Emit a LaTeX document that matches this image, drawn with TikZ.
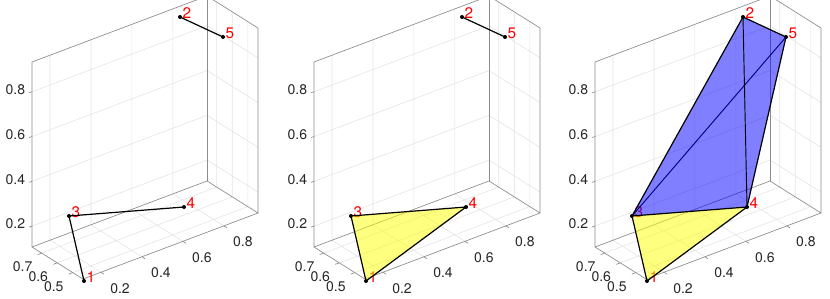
\documentclass[tikz,border=0pt]{standalone}
\usepackage{fontspec}
\setmainfont{TeX Gyre Heros}
\usetikzlibrary{calc}
\definecolor{boxG}{HTML}{8C8C8C}
\definecolor{gridG}{HTML}{E4E4E4}
\definecolor{tickT}{HTML}{262626}
\definecolor{faceY}{HTML}{FFFF00}
\definecolor{faceB}{HTML}{0000FF}

\begin{document}
\begin{tikzpicture}[
  x=0.75pt, y=-0.75pt,
  gridln/.style={draw=gridG, line width=0.45pt},
  boxln/.style={draw=boxG, line width=0.5pt},
  ticklab/.style={
    font=\fontsize{10.5}{12}\selectfont,
    text=tickT, inner sep=0pt
  },
  vtx/.style={circle, fill=black, inner sep=0pt, minimum size=3pt},
  vlab/.style={
    font=\fontsize{11.5}{12}\selectfont,
    text=red, inner sep=0pt,
    anchor=south west, yshift=-1.5pt
  },
  edgeln/.style={draw=black, line width=0.9pt},
  yface/.style={fill=faceY, fill opacity=0.5},
  bface/.style={fill=faceB, fill opacity=0.5},
  axesbox/.pic={
    \coordinate (FL) at (32,247);
    \coordinate (FB) at (207,181);
    \coordinate (FR) at (258,213);
    \coordinate (FF) at (83,279);
    \coordinate (TL) at (32,62);
    \coordinate (TB) at (207,-4);
    \coordinate (TR) at (258,28);
    % back walls and floor grid
    \draw[gridln]
      ($(FL)!0.103!(FB)$) -- ($(TL)!0.103!(TB)$)
      ($(FL)!0.337!(FB)$) -- ($(TL)!0.337!(TB)$)
      ($(FL)!0.571!(FB)$) -- ($(TL)!0.571!(TB)$)
      ($(FL)!0.805!(FB)$) -- ($(TL)!0.805!(TB)$)
      ($(FL)!0.113!(TL)$) -- ($(FB)!0.113!(TB)$) -- ($(FR)!0.113!(TR)$)
      ($(FL)!0.355!(TL)$) -- ($(FB)!0.355!(TB)$) -- ($(FR)!0.355!(TR)$)
      ($(FL)!0.597!(TL)$) -- ($(FB)!0.597!(TB)$) -- ($(FR)!0.597!(TR)$)
      ($(FL)!0.839!(TL)$) -- ($(FB)!0.839!(TB)$) -- ($(FR)!0.839!(TR)$)
      ($(FB)!0.19!(FR)$) -- ($(TB)!0.19!(TR)$)
      ($(FB)!0.495!(FR)$) -- ($(TB)!0.495!(TR)$)
      ($(FB)!0.80!(FR)$) -- ($(TB)!0.80!(TR)$);
    \draw[gridln]
      ($(FL)!0.103!(FB)$) -- ($(FF)!0.103!(FR)$)
      ($(FL)!0.337!(FB)$) -- ($(FF)!0.337!(FR)$)
      ($(FL)!0.571!(FB)$) -- ($(FF)!0.571!(FR)$)
      ($(FL)!0.805!(FB)$) -- ($(FF)!0.805!(FR)$)
      ($(FL)!0.19!(FF)$) -- ($(FB)!0.19!(FR)$)
      ($(FL)!0.495!(FF)$) -- ($(FB)!0.495!(FR)$)
      ($(FL)!0.80!(FF)$) -- ($(FB)!0.80!(FR)$);
    % box edges and rulers
    \draw[boxln] (FL) -- (TL) -- (TB) -- (TR) -- (FR) -- (FB) -- (FL);
    \draw[boxln] (FB) -- (TB);
    \draw[boxln] (FL) -- (FF) -- (FR);
    \draw[boxln]
      ($(FF)!0.103!(FR)$) -- ++(3,2)
      ($(FF)!0.337!(FR)$) -- ++(3,2)
      ($(FF)!0.571!(FR)$) -- ++(3,2)
      ($(FF)!0.805!(FR)$) -- ++(3,2)
      ($(FL)!0.19!(FF)$) -- ++(-4,1.5)
      ($(FL)!0.495!(FF)$) -- ++(-4,1.5)
      ($(FL)!0.80!(FF)$) -- ++(-4,1.5)
      ($(FL)!0.113!(TL)$) -- ++(-3,1)
      ($(FL)!0.355!(TL)$) -- ++(-3,1)
      ($(FL)!0.597!(TL)$) -- ++(-3,1)
      ($(FL)!0.839!(TL)$) -- ++(-3,1);
    % tick labels
    \node[ticklab, anchor=east, xshift=-5pt, yshift=1.5pt] at ($(FL)!0.113!(TL)$) {0.2};
    \node[ticklab, anchor=east, xshift=-5pt, yshift=1.5pt] at ($(FL)!0.355!(TL)$) {0.4};
    \node[ticklab, anchor=east, xshift=-5pt, yshift=1.5pt] at ($(FL)!0.597!(TL)$) {0.6};
    \node[ticklab, anchor=east, xshift=-5pt, yshift=1.5pt] at ($(FL)!0.839!(TL)$) {0.8};
    \node[ticklab, xshift=14.25pt, yshift=-12pt] at ($(FF)!0.103!(FR)$) {0.2};
    \node[ticklab, xshift=14.25pt, yshift=-12pt] at ($(FF)!0.337!(FR)$) {0.4};
    \node[ticklab, xshift=14.25pt, yshift=-12pt] at ($(FF)!0.571!(FR)$) {0.6};
    \node[ticklab, xshift=14.25pt, yshift=-12pt] at ($(FF)!0.805!(FR)$) {0.8};
    \node[ticklab, xshift=-14.25pt, yshift=-10.5pt] at ($(FL)!0.19!(FF)$) {0.7};
    \node[ticklab, xshift=-14.25pt, yshift=-10.5pt] at ($(FL)!0.495!(FF)$) {0.6};
    \node[ticklab, xshift=-14.25pt, yshift=-10.5pt] at ($(FL)!0.80!(FF)$) {0.5};
  },
]
\useasboundingbox (0,0) rectangle (830,299);

%% ═══ AXES ═══
\pic at (0,0) {axesbox};
\pic at (282,0) {axesbox};
\pic at (563,0) {axesbox};

%% ═══ PANEL 1 — EDGES ONLY ═══
\begin{scope}
  \node[vtx, label={[vlab]right:1}] (a1) at (84,281) {};
  \node[vtx, label={[vlab]right:2}] (a2) at (180,17) {};
  \node[vtx, label={[vlab]right:3}] (a3) at (69,216) {};
  \node[vtx, label={[vlab]right:4}] (a4) at (184,207) {};
  \node[vtx, label={[vlab]right:5}] (a5) at (223,37) {};
  \draw[edgeln] (a2.center) -- (a5.center);
  \draw[edgeln] (a3.center) -- (a4.center);
  \draw[edgeln] (a3.center) -- (a1.center);
\end{scope}

%% ═══ PANEL 2 — ONE TRIANGLE ═══
\begin{scope}[shift={(282,0)}]
  \node[vtx, label={[vlab]right:1}] (b1) at (84,281) {};
  \node[vtx, label={[vlab]right:2}] (b2) at (180,17) {};
  \node[vtx, label={[vlab]right:3}] (b3) at (69,216) {};
  \node[vtx, label={[vlab]right:4}] (b4) at (184,207) {};
  \node[vtx, label={[vlab]right:5}] (b5) at (223,37) {};
  \draw[edgeln] (b2.center) -- (b5.center);
  \draw[edgeln, yface] (b1.center) -- (b3.center) -- (b4.center) -- cycle;
\end{scope}

%% ═══ PANEL 3 — TRIANGLE + TETRAHEDRON ═══
\begin{scope}[shift={(563,0)}]
  \node[vtx, label={[vlab]right:1}] (c1) at (84,281) {};
  \node[vtx, label={[vlab]right:2}] (c2) at (180,17) {};
  \node[vtx, label={[vlab]right:3}] (c3) at (69,216) {};
  \node[vtx, label={[vlab]right:4}] (c4) at (184,207) {};
  \node[vtx, label={[vlab]right:5}] (c5) at (223,37) {};
  \draw[edgeln, line width=0.7pt] (c3.center) -- (c5.center);
  \fill[bface] (c3.center) -- (c2.center) -- (c5.center) -- (c4.center) -- cycle;
  \draw[edgeln] (c3.center) -- (c2.center) -- (c5.center) -- (c4.center);
  \draw[edgeln, line width=0.7pt] (c2.center) -- (c4.center);
  \draw[edgeln, yface] (c1.center) -- (c3.center) -- (c4.center) -- cycle;
\end{scope}

\end{tikzpicture}
\end{document}
